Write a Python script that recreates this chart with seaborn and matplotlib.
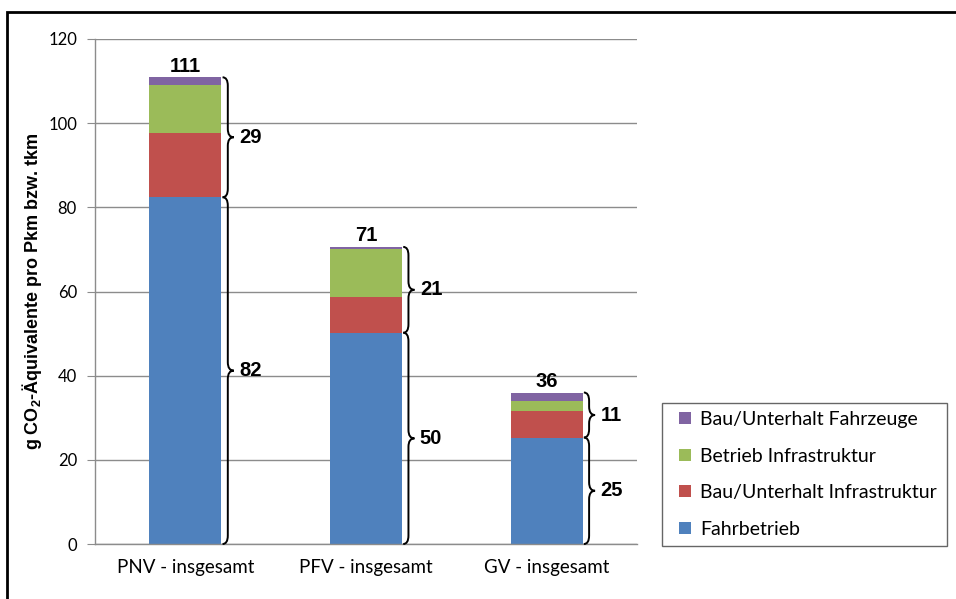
import pandas as pd
import matplotlib.pyplot as plt
import seaborn as sns
from matplotlib.path import Path
from matplotlib.patches import PathPatch, Rectangle
from matplotlib.lines import Line2D

sns.set_style('white')
plt.rcParams['font.family'] = ['Lato', 'DejaVu Sans']
plt.rcParams['text.color'] = 'black'
plt.rcParams['axes.labelcolor'] = 'black'
plt.rcParams['xtick.labelcolor'] = 'black'
plt.rcParams['ytick.labelcolor'] = 'black'
plt.rcParams['mathtext.fontset'] = 'custom'
plt.rcParams['mathtext.rm'] = 'Liberation Sans:bold'
plt.rcParams['mathtext.default'] = 'rm'

# values (g CO2-eq per pkm / tkm)
categories = ['PNV - insgesamt', 'PFV - insgesamt', 'GV - insgesamt']
fahrbetrieb = [82.4, 50.2, 25.3]
bau_infra = [15.2, 8.6, 6.4]
betrieb_infra = [11.5, 11.3, 2.4]
bau_fahrzeuge = [1.8, 0.5, 1.9]

series = ['Fahrbetrieb', 'Bau/Unterhalt Infrastruktur', 'Betrieb Infrastruktur', 'Bau/Unterhalt Fahrzeuge']
colors = ['#4F81BD', '#C0504D', '#9BBB59', '#8064A2']

df = pd.DataFrame({'kat': categories, series[0]: fahrbetrieb, series[1]: bau_infra,
                   series[2]: betrieb_infra, series[3]: bau_fahrzeuge})
cum = df[series].cumsum(axis=1)
cum['kat'] = df['kat']

fig = plt.figure(figsize=(9.56, 5.99), dpi=100)
ax = fig.add_axes([0.0994, 0.0918, 0.5669, 0.8431])

# stacked bars: draw cumulative totals from top layer down
for s, c in reversed(list(zip(series, colors))):
    sns.barplot(data=cum, x='kat', y=s, color=c, width=0.4, saturation=1, linewidth=0,
                ax=ax, zorder=2)

ax.set_ylim(0, 120)
ax.set_xlim(-0.5, 2.5)
ax.set_yticks(range(0, 121, 20))
ax.yaxis.grid(True, color='#8c8c8c', lw=1)
ax.set_axisbelow(True)
for sp in ['top', 'right']:
    ax.spines[sp].set_visible(False)
for sp in ['left', 'bottom']:
    ax.spines[sp].set_color('#8c8c8c')
    ax.spines[sp].set_linewidth(1)
ax.set_xticks([-0.5, 0.5, 1.5, 2.5], minor=True)
ax.tick_params(axis='x', which='major', length=0, labelsize=13.5, pad=11)
ax.tick_params(axis='x', which='minor', length=6, color='#8c8c8c', direction='out')
ax.tick_params(axis='y', length=6, color='#8c8c8c', direction='out', left=True, labelsize=12, pad=7)
ax.set_xlabel('')
ax.set_ylabel(r'g CO$_2$-Äquivalente pro Pkm bzw. tkm', family='Liberation Sans',
              fontweight='bold', fontsize=13, labelpad=3)


def brace(x, y0, y1, r=2.0):
    xs, xm, xt = x + 0.006, x + 0.035, x + 0.068
    ym = (y0 + y1) / 2
    verts = [(xs, y0), (xm, y0), (xm, y0 + r), (xm, ym - r), (xm, ym), (xt, ym),
             (xm, ym), (xm, ym + r), (xm, y1 - r), (xm, y1), (xs, y1)]
    codes = [Path.MOVETO, Path.CURVE3, Path.CURVE3, Path.LINETO, Path.CURVE3, Path.CURVE3,
             Path.CURVE3, Path.CURVE3, Path.LINETO, Path.CURVE3, Path.CURVE3]
    ax.add_patch(PathPatch(Path(verts, codes), fill=False, lw=1.4, color='black', zorder=3,
                           clip_on=False))
    return xt


lab = dict(family='Liberation Sans', fontweight='bold', fontsize=14.5)
for i in range(len(categories)):
    base = fahrbetrieb[i]
    total = cum[series[-1]][i]
    right = i + 0.2
    xt = brace(right, 0, base)
    ax.text(xt + 0.03, base / 2, f'{round(base)}', va='center', ha='left', **lab)
    xt = brace(right, base, total)
    ax.text(xt + 0.03, (base + total) / 2, f'{round(total) - round(base)}', va='center', ha='left', **lab)
    ax.text(i, total + 0.4, f'{round(total)}', va='bottom', ha='center', **lab)

handles = [Line2D([], [], ls='none', marker='s', markersize=8.6, markerfacecolor=c,
                  markeredgewidth=0) for c in colors][::-1]
leg = fig.legend(handles, series[::-1], loc='upper left', bbox_to_anchor=(0.6925, 0.0868, 0.298, 0.2404),
                 mode='expand', fontsize=14, frameon=True, fancybox=False, handlelength=1.5,
                 handletextpad=0.05, labelspacing=1.0, borderpad=0.42, borderaxespad=0)
leg.get_frame().set_edgecolor('#404040')
leg.get_frame().set_linewidth(1)

fig.patches.append(Rectangle((7 / 956, -0.1), 1.2, 1.1 - 12 / 599, transform=fig.transFigure,
                             fill=False, lw=2, edgecolor='black'))

fig.savefig('out.png', dpi=100)
